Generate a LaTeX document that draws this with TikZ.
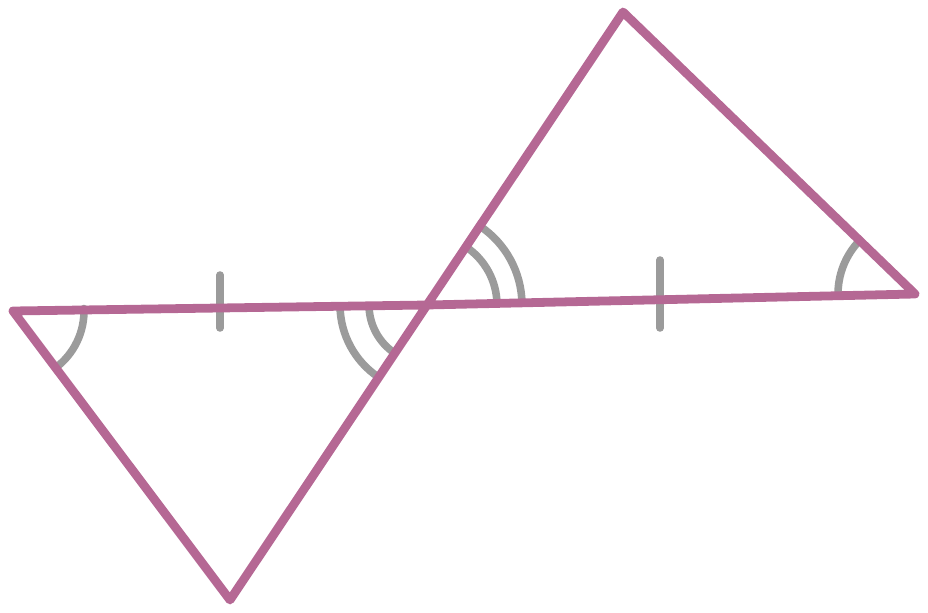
\documentclass[tikz,border=0pt]{standalone}
\usepackage{tikz}
\usetikzlibrary{calc}
\definecolor{bokkolor}{RGB}{181,104,148}
\definecolor{katkolor}{RGB}{155,155,155}

\begin{document}
\begin{tikzpicture}[x=0.02cm,y=0.02cm,sideline/.style={draw=bokkolor,line width=5pt,line join=round,line cap=round},anglearc/.style={draw=katkolor,line width=4.3pt,line cap=round},tickmark/.style={draw=katkolor,line width=4.3pt,line cap=round}]
			\useasboundingbox (0,0) rectangle (928,612);
			\coordinate (A) at (13,301);
			\coordinate (B) at (230,12);
			\coordinate (O) at (427,307);
			\coordinate (C) at (623,600);
			\coordinate (D) at (915,318);
			\draw [anglearc] ($(A)+(-53:71)$) arc[start angle=-53, end angle=2, radius=71];
			\draw [anglearc] ($(D)+(136:77)$) arc[start angle=136, end angle=181, radius=77];
			\draw [anglearc] ($(O)+(181:58)$) arc[start angle=181, end angle=236, radius=58];
			\draw [anglearc] ($(O)+(181:87)$) arc[start angle=181, end angle=236, radius=87];
			\draw [anglearc] ($(O)+(1:70)$) arc[start angle=1, end angle=56, radius=70];
			\draw [anglearc] ($(O)+(1:95)$) arc[start angle=1, end angle=56, radius=95];
			\draw [tickmark] (220,337) -- (220,284);
			\draw [tickmark] (660,352) -- (660,284);
			\draw [sideline] (A) -- (B) -- (O) -- cycle;
			\draw [sideline] (O) -- (C) -- (D) -- cycle;
		\end{tikzpicture}
\end{document}
